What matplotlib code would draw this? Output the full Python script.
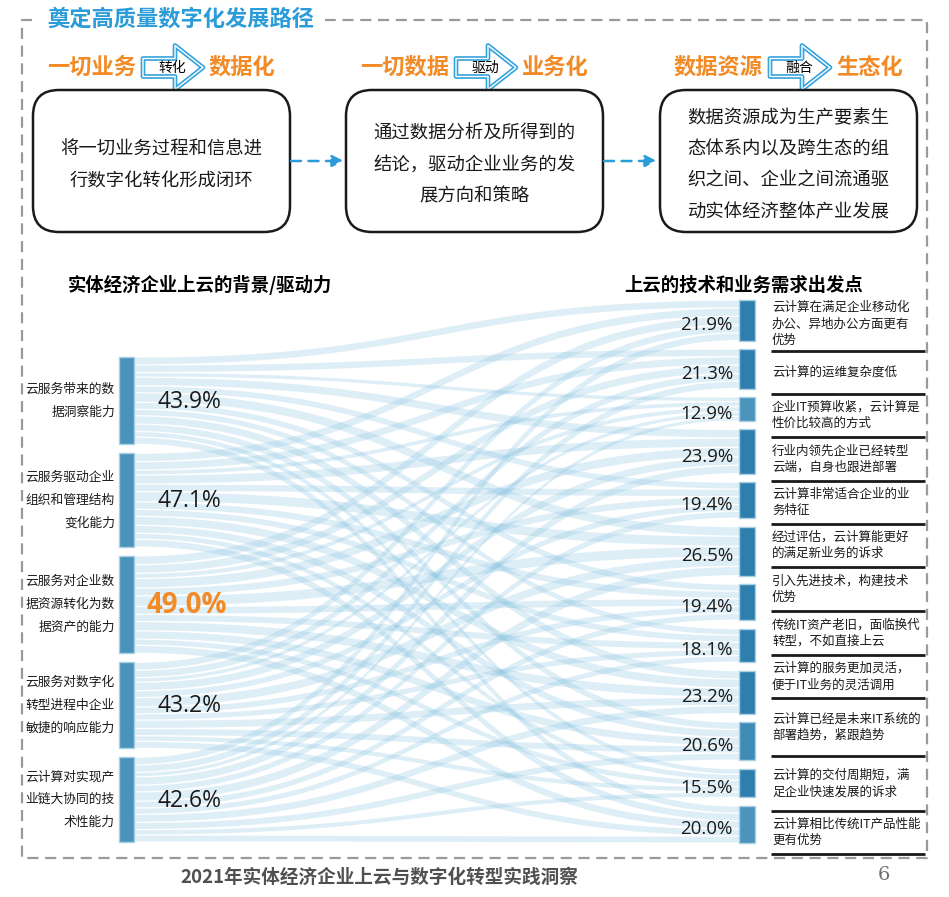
import numpy as np
import matplotlib
matplotlib.use("Agg")
import matplotlib.pyplot as plt
from matplotlib.patches import FancyBboxPatch, Polygon, Rectangle

plt.rcParams['font.family'] = ['Noto Sans CJK SC', 'DejaVu Sans']

# ---------------- données ----------------
title = "奠定高质量数字化发展路径"
steps_from = ["一切业务", "一切数据", "数据资源"]
steps_verb = ["转化", "驱动", "融合"]
steps_to = ["数据化", "业务化", "生态化"]
steps_desc = [
    "将一切业务过程和信息进\n行数字化转化形成闭环",
    "通过数据分析及所得到的\n结论，驱动企业业务的发\n展方向和策略",
    "数据资源成为生产要素生\n态体系内以及跨生态的组\n织之间、企业之间流通驱\n动实体经济整体产业发展",
]

left_title = "实体经济企业上云的背景/驱动力"
left_labels = [
    "云服务带来的数\n据洞察能力",
    "云服务驱动企业\n组织和管理结构\n变化能力",
    "云服务对企业数\n据资源转化为数\n据资产的能力",
    "云服务对数字化\n转型进程中企业\n敏捷的响应能力",
    "云计算对实现产\n业链大协同的技\n术性能力",
]
left_vals = [43.9, 47.1, 49.0, 43.2, 42.6]

right_title = "上云的技术和业务需求出发点"
right_labels = [
    "云计算在满足企业移动化\n办公、异地办公方面更有\n优势",
    "云计算的运维复杂度低",
    "企业IT预算收紧，云计算是\n性价比较高的方式",
    "行业内领先企业已经转型\n云端，自身也跟进部署",
    "云计算非常适合企业的业\n务特征",
    "经过评估，云计算能更好\n的满足新业务的诉求",
    "引入先进技术，构建技术\n优势",
    "传统IT资产老旧，面临换代\n转型，不如直接上云",
    "云计算的服务更加灵活，\n便于IT业务的灵活调用",
    "云计算已经是未来IT系统的\n部署趋势，紧跟趋势",
    "云计算的交付周期短，满\n足企业快速发展的诉求",
    "云计算相比传统IT产品性能\n更有优势",
]
right_vals = [21.9, 21.3, 12.9, 23.9, 19.4, 26.5, 19.4, 18.1, 23.2, 20.6, 15.5, 20.0]

footer = "2021年实体经济企业上云与数字化转型实践洞察"
page = "6"

# ---------------- style ----------------
BLUE = "#2b9cd8"
ORANGE = "#f28a26"
LINK = "#7fbfdf"
NODE_L = "#4a93bc"
right_node_colors = ["#2f7fae", "#2f7fae", "#4d94bc", "#2f7fae", "#2f7fae", "#2f7fae",
                     "#2f7fae", "#2f7fae", "#2f7fae", "#3f8bb6", "#2f7fae", "#4d94bc"]
row_lines = [297, 351, 394, 437, 481, 524, 567, 611, 655, 698, 756, 811, 854]
PCT_FONT = ["Open Sans", "DejaVu Sans"]

fig = plt.figure(figsize=(9.49, 8.97), dpi=100)
ax = fig.add_axes([0, 0, 1, 1])
ax.set_xlim(0, 949)
ax.set_ylim(897, 0)
ax.axis("off")

# cadre pointillé
dash = dict(color="#9a9a9a", lw=1.6, ls=(0, (5, 3)))
ax.plot([32, 22, 22, 927, 927, 325], [20, 20, 858, 858, 20, 20], **dash)
ax.text(47, 19, title, color=BLUE, fontsize=16, fontweight="bold", va="center", ha="left")

# ---------------- partie haute ----------------
def block_arrow(x0, yc, word):
    pts = np.array([[0, -9], [32, -9], [32, -22], [60, 0], [32, 22], [32, 9], [0, 9]])
    pts = pts + [x0, yc]
    ax.add_patch(Polygon(pts, closed=True, fc="white", ec="#35a3dc", lw=3.4, joinstyle="round"))
    ax.add_patch(Polygon(pts, closed=True, fc="none", ec="white", lw=1.0, joinstyle="round"))
    ax.text(x0 + 29, yc, word, fontsize=10, va="center", ha="center", color="black")

box_x = [33, 346, 660]
box_w = 257
for k in range(3):
    x = box_x[k]
    ax.text(x + 14, 67, steps_from[k], color=ORANGE, fontsize=16, fontweight="bold", va="center", ha="left")
    block_arrow(x + 110, 67.5, steps_verb[k])
    ax.text(x + 176, 67, steps_to[k], color=ORANGE, fontsize=16, fontweight="bold", va="center", ha="left")
    ax.add_patch(FancyBboxPatch((x + 12, 102), box_w - 24, 118,
                                boxstyle="round,pad=12,rounding_size=26",
                                fc="white", ec="#1a1a1a", lw=1.8))
    ax.text(x + box_w / 2, 165, steps_desc[k], fontsize=13.2, va="center", ha="center",
            linespacing=1.95, color="#1a1a1a")
    if k < 2:
        ax.annotate("", xy=(x + box_w + 54, 161), xytext=(x + box_w + 1, 161),
                    arrowprops=dict(arrowstyle="-|>,head_length=0.7,head_width=0.35",
                                    color=BLUE, lw=1.8, ls=(0, (4, 3)), shrinkA=0, shrinkB=0))

# ---------------- sankey ----------------
def stack(vals, top, bottom, gap):
    vals = np.asarray(vals, float)
    k = (bottom - top - gap * (len(vals) - 1)) / vals.sum()
    h = vals * k
    y0 = top + np.concatenate([[0], np.cumsum(h + gap)[:-1]])
    return y0, h

ly0, lh = stack(left_vals, 357, 842, 9)
ry0, rh = stack(right_vals, 300, 843, 8.5)
xl0, xl1 = 119, 134
xr0, xr1 = 739, 755

lv = np.array(left_vals)
rv = np.array(right_vals)
t = np.linspace(0, 1, 80)
xm = (xl1 + xr0) / 2
bx = (1 - t) ** 3 * xl1 + 3 * (1 - t) ** 2 * t * xm + 3 * (1 - t) * t ** 2 * xm + t ** 3 * xr0
s = 3 * t ** 2 - 2 * t ** 3
pad = 0.6
for i in range(len(lv)):
    wl = lh[i] * rv / rv.sum()
    sl = ly0[i] + np.concatenate([[0], np.cumsum(wl)[:-1]])
    for j in range(len(rv)):
        wr = rh[j] * lv / lv.sum()
        sr = ry0[j] + np.concatenate([[0], np.cumsum(wr)[:-1]])
        a0, a1 = sl[j] + pad, sl[j] + wl[j] - pad
        b0, b1 = sr[i] + pad, sr[i] + wr[i] - pad
        top = a0 + (b0 - a0) * s
        bot = a1 + (b1 - a1) * s
        ax.fill(np.concatenate([bx, bx[::-1]]), np.concatenate([top, bot[::-1]]),
                color=LINK, alpha=0.25, lw=0)

for i in range(len(lv)):
    ax.add_patch(Rectangle((xl0, ly0[i]), xl1 - xl0, lh[i], fc=NODE_L, ec="#a9d0e4", lw=1))
    yc = ly0[i] + lh[i] / 2
    ax.text(115, yc, left_labels[i], fontsize=9.2, ha="right", va="center",
            linespacing=2.0, color="#1a1a1a")
    if left_vals[i] == max(left_vals):
        ax.text(147, yc + 1, f"{left_vals[i]:.1f}%", fontsize=20, fontweight="bold",
                color=ORANGE, ha="left", va="center", family=PCT_FONT)
    else:
        ax.text(158, yc + 1, f"{left_vals[i]:.1f}%", fontsize=16.5, color="#1a1a1a",
                ha="left", va="center", family=PCT_FONT)

for j in range(len(rv)):
    ax.add_patch(Rectangle((xr0, ry0[j]), xr1 - xr0, rh[j], fc=right_node_colors[j], ec="#a9d0e4", lw=1))
    yc = ry0[j] + rh[j] / 2
    ax.text(733, yc + 5, f"{right_vals[j]:.1f}%", fontsize=13.5, color="#1a1a1a",
            ha="right", va="center", family=PCT_FONT)

for j in range(len(right_labels)):
    yc = (row_lines[j] + row_lines[j + 1]) / 2
    ax.text(772, yc, right_labels[j], fontsize=9, ha="left", va="center",
            linespacing=1.35, color="#1a1a1a")
for y in row_lines[1:]:
    ax.plot([771, 925], [y, y], color="#1a1a1a", lw=2, solid_capstyle="butt")

ax.text(68, 285, left_title, fontsize=13.2, fontweight="bold", ha="left", va="center")
ax.text(624, 285, right_title, fontsize=13.2, fontweight="bold", ha="left", va="center")

ax.text(379, 877, footer, fontsize=13.4, fontweight="bold", color="#505050", ha="center", va="center")
ax.text(884, 875, page, fontsize=14, color="#707070", ha="center", va="center", family="DejaVu Serif")

fig.savefig("out.png", dpi=100)
